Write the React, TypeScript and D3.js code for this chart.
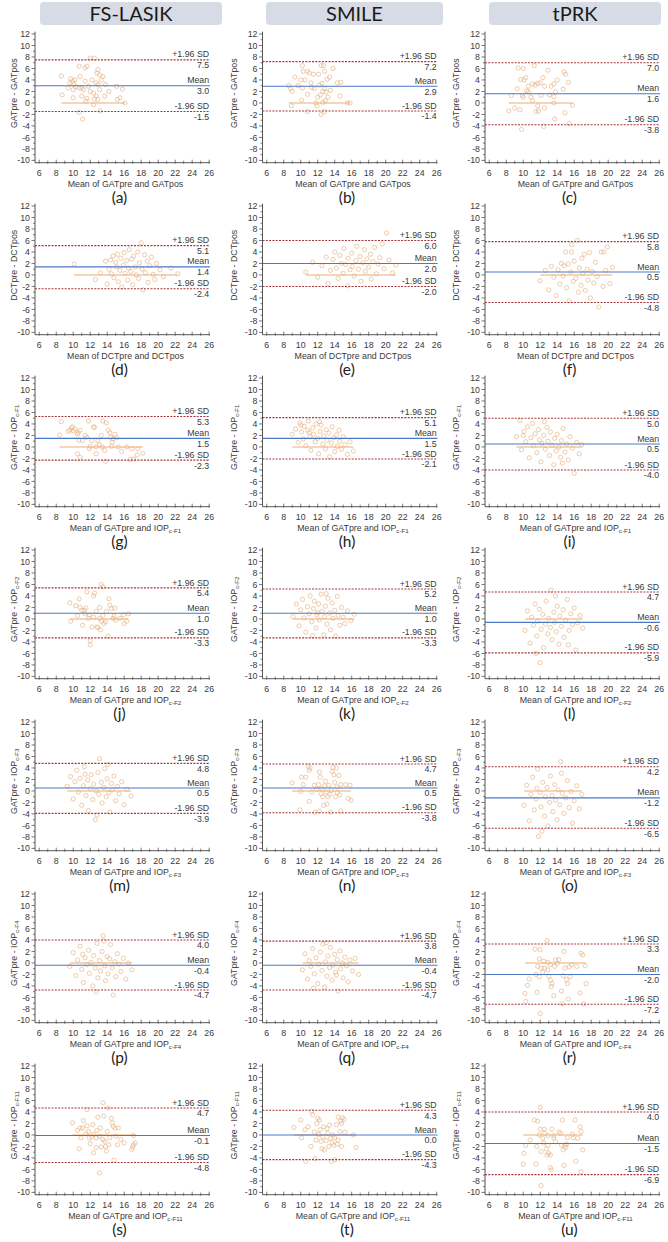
import * as d3 from "d3";
import React from "react";

// Bland-Altman panels: 7 comparisons x 3 surgery groups
const groups = ["FS-LASIK", "SMILE", "tPRK"];
const letters = "abcdefghijklmnopqrstu".split("");

// [main text, subscript] for each row
const yTitles = [
  ["GATpre - GATpos", ""],
  ["DCTpre - DCTpos", ""],
  ["GATpre - IOP", "c-F1"],
  ["GATpre - IOP", "c-F2"],
  ["GATpre - IOP", "c-F3"],
  ["GATpre - IOP", "c-F4"],
  ["GATpre - IOP", "c-F11"],
];
const xTitles = [
  ["Mean of GATpre and GATpos", ""],
  ["Mean of DCTpre and DCTpos", ""],
  ["Mean of GATpre and IOP", "c-F1"],
  ["Mean of GATpre and IOP", "c-F2"],
  ["Mean of GATpre and IOP", "c-F3"],
  ["Mean of GATpre and IOP", "c-F4"],
  ["Mean of GATpre and IOP", "c-F11"],
];

// limits of agreement, row-major (a..u)
const upperSD = [7.5, 7.2, 7.0, 5.1, 6.0, 5.8, 5.3, 5.1, 5.0, 5.4, 5.2, 4.7, 4.8, 4.7, 4.2, 4.0, 3.8, 3.3, 4.7, 4.3, 4.0];
const meanDiff = [3.0, 2.9, 1.6, 1.4, 2.0, 0.5, 1.5, 1.5, 0.5, 1.0, 1.0, -0.6, 0.5, 0.5, -1.2, -0.4, -0.4, -2.0, -0.1, 0.0, -1.5];
const lowerSD = [-1.5, -1.4, -3.8, -2.4, -2.0, -4.8, -2.3, -2.1, -4.0, -3.3, -3.3, -5.9, -3.9, -3.8, -6.5, -4.7, -4.7, -7.2, -4.8, -4.3, -6.9];

const ptsA = [[8.6,4.7],[8.7,1.4],[9.4,2.6],[9.6,3.5],[9.7,4.2],[9.9,3.8],[10.1,3.2],[10.0,2.3],[10.2,4.0],[10.3,2.8],[10.0,0.9],[10.7,6.4],[10.7,2.6],[11.0,2.6],[11.2,2.3],[10.7,-1.6],[11.1,-2.8],[11.4,6.1],[11.6,6.4],[11.4,3.8],[11.6,0.8],[11.5,0.3],[12.0,7.8],[12.5,7.8],[12.2,4.0],[12.0,2.0],[12.4,1.7],[12.5,0.7],[12.7,1.2],[12.4,-0.3],[12.9,5.8],[13.1,4.9],[13.3,4.0],[13.1,2.3],[12.9,0.6],[13.2,-1.4],[13.5,4.6],[13.8,3.2],[13.7,1.2],[14.2,2.0],[12.9,3.2],[15.1,2.9],[15.2,0.6],[15.5,0.9],[15.8,2.4],[10.8,4.6],[11.8,2.9],[12.7,3.5],[12.8,5.2],[11.0,1.2],[16.1,0.0]];
const ptsB = [[10.2,6.5],[12.4,6.5],[12.7,6.5],[13.8,6.0],[10.3,5.5],[10.8,5.5],[12.8,5.5],[11.5,5.0],[12.1,5.0],[11.0,5.2],[9.3,4.5],[13.4,4.5],[10.0,4.0],[10.5,4.0],[13.1,4.1],[11.2,3.5],[12.5,3.4],[14.3,3.5],[8.6,3.0],[9.7,3.0],[12.2,3.1],[8.8,2.5],[10.2,2.6],[11.6,2.5],[12.8,2.5],[9.0,2.0],[12.6,2.0],[13.0,1.9],[10.8,1.5],[12.3,1.4],[12.0,1.0],[13.2,1.0],[10.1,0.5],[12.9,0.4],[11.8,0.0],[15.5,0.0],[12.6,0.1],[8.9,-0.5],[11.9,-0.5],[10.8,-1.5],[12.8,-1.5],[12.4,-2.0],[14.6,1.2],[14.7,3.6],[11.3,2.7],[13.5,2.2],[15.8,0.0]];
const ptsC = [[8.3,-1.4],[8.6,1.3],[9.0,-0.9],[9.3,2.5],[9.4,6.1],[9.6,-1.2],[9.8,-4.6],[9.9,1.3],[10.0,1.0],[10.0,6.0],[10.1,4.0],[10.3,4.4],[10.4,2.1],[10.6,2.9],[10.6,1.9],[10.9,1.0],[11.1,0.4],[11.1,3.3],[11.3,6.5],[11.4,3.1],[11.7,3.4],[11.7,-0.5],[11.5,-1.5],[11.8,-1.4],[12.1,1.3],[12.3,4.4],[12.5,2.9],[12.4,-4.1],[12.5,-0.9],[12.9,5.7],[13.1,1.4],[13.3,2.9],[13.6,1.1],[13.6,0.0],[13.6,3.3],[13.7,-2.8],[14.0,4.0],[13.8,1.9],[14.7,2.4],[14.8,5.4],[15.0,5.0],[14.9,-1.7],[15.3,3.6],[15.4,-3.6],[15.8,-0.4],[9.7,4.1],[12.0,3.5]];
const ptsD = [[10.1,1.9],[12.6,-0.8],[13.2,0.4],[13.8,2.4],[14.0,-1.6],[14.2,1.0],[14.4,2.6],[14.5,0.2],[14.7,3.3],[14.8,-0.5],[15.0,2.2],[15.1,1.4],[15.2,3.6],[15.3,-1.2],[15.5,0.8],[15.6,2.9],[15.7,-2.1],[15.9,1.7],[16.0,3.9],[16.1,0.3],[16.3,2.5],[16.4,-0.9],[16.5,1.2],[16.6,4.4],[16.8,0.6],[16.9,2.8],[17.0,-1.7],[17.1,3.3],[17.3,1.4],[17.4,0.0],[17.6,4.0],[17.7,-0.6],[17.8,2.1],[18.0,5.6],[18.1,1.0],[18.2,-2.6],[18.4,3.5],[18.5,0.4],[18.7,2.4],[18.8,-1.3],[19.0,1.6],[19.2,3.1],[19.4,0.1],[19.6,-0.8],[19.8,2.0],[20.2,0.9],[20.6,-0.3],[21.5,1.2],[22.3,0.2]];
const ptsE = [[10.6,0.5],[11.4,2.2],[12.0,-0.4],[12.5,1.6],[13.0,3.1],[13.2,-1.5],[13.5,0.8],[13.8,2.7],[14.0,4.0],[14.2,1.2],[14.4,-0.6],[14.6,3.4],[14.8,2.0],[15.0,0.3],[15.1,4.6],[15.3,1.8],[15.5,-1.9],[15.6,2.9],[15.8,0.9],[16.0,3.8],[16.1,1.5],[16.3,-0.2],[16.5,2.5],[16.6,5.0],[16.8,1.0],[17.0,3.2],[17.1,-1.1],[17.3,2.1],[17.5,4.4],[17.6,0.6],[17.8,2.8],[18.0,1.4],[18.2,3.6],[18.3,-0.7],[18.5,2.3],[18.7,4.8],[18.9,0.2],[19.1,1.9],[19.3,3.0],[19.6,5.4],[19.8,1.1],[20.1,7.3],[20.4,2.6],[20.8,0.4],[21.2,1.7]];
const ptsF = [[12.0,-1.0],[12.6,0.8],[13.0,-2.6],[13.3,1.5],[13.6,-0.4],[13.9,-3.6],[14.1,0.9],[14.3,-1.6],[14.5,2.0],[14.7,-0.2],[14.8,1.6],[15.0,4.0],[15.1,-2.2],[15.3,1.9],[15.4,-4.5],[15.6,0.5],[15.7,5.3],[15.7,4.0],[15.9,-1.1],[16.0,2.4],[16.2,-0.6],[16.4,6.0],[16.5,-3.0],[16.6,1.2],[16.8,-1.8],[16.9,2.9],[17.0,0.3],[17.2,3.6],[17.3,-2.7],[17.5,1.0],[17.6,-0.9],[17.8,3.9],[17.9,-4.0],[18.1,0.6],[18.3,-1.4],[18.5,2.2],[18.7,-0.3],[18.9,-5.6],[19.2,4.0],[19.4,-2.0],[19.5,4.0],[19.7,0.8],[19.9,4.9],[20.2,-1.5],[20.5,1.3]];
const ptsG = [[8.6,4.4],[8.4,2.1],[9.4,2.7],[9.6,2.9],[9.8,3.3],[9.9,3.5],[10.0,2.8],[10.2,3.1],[10.5,2.2],[10.6,2.5],[10.8,2.9],[10.7,1.2],[10.8,-1.8],[10.5,-1.2],[11.1,1.1],[11.4,2.0],[11.6,1.7],[11.8,4.5],[11.9,-0.3],[12.0,0.1],[12.2,1.1],[12.4,3.5],[12.5,3.4],[12.7,0.0],[12.7,-1.2],[12.9,1.1],[13.1,0.4],[13.3,2.0],[13.4,0.0],[13.5,4.5],[13.7,-0.6],[13.8,-2.5],[13.9,4.2],[14.1,2.9],[14.3,2.5],[14.4,1.7],[14.5,0.1],[14.6,0.8],[14.7,1.4],[14.9,2.2],[15.1,1.6],[15.3,0.0],[15.7,-0.8],[16.3,0.0],[16.7,-2.2],[17.1,-2.1],[17.5,-1.4],[17.6,-0.3],[16.9,-0.3],[18.2,-1.1]];
const ptsH = [[9.0,2.2],[9.4,3.1],[9.7,0.8],[9.9,4.2],[10.1,2.6],[10.3,1.4],[10.4,3.6],[10.6,0.2],[10.8,2.9],[10.9,4.5],[11.1,1.8],[11.2,-0.6],[11.4,3.3],[11.5,2.2],[11.7,0.9],[11.8,4.0],[12.0,1.5],[12.1,-1.2],[12.3,2.7],[12.4,3.8],[12.6,0.5],[12.7,1.9],[12.9,-0.3],[13.0,3.0],[13.1,1.2],[13.3,2.4],[13.4,-1.7],[13.6,0.7],[13.7,3.5],[13.9,1.6],[14.0,-0.8],[14.2,2.1],[14.3,0.1],[14.5,2.9],[14.6,1.0],[14.8,-0.4],[15.0,1.8],[15.2,0.4],[15.5,-1.3],[15.8,0.9],[16.2,-0.7],[12.2,4.4],[10.0,3.8],[11.0,2.5]];
const ptsI = [[9.2,1.8],[9.6,4.6],[9.8,-0.5],[10.1,2.7],[10.3,0.9],[10.5,3.5],[10.7,-1.9],[10.9,1.6],[11.1,4.1],[11.2,0.2],[11.4,2.3],[11.6,-1.0],[11.8,3.0],[11.9,1.2],[12.1,-2.6],[12.2,0.6],[12.4,2.0],[12.6,-0.4],[12.8,3.4],[12.9,1.0],[13.1,-1.5],[13.2,2.6],[13.4,0.3],[13.6,-3.1],[13.7,1.5],[13.9,-0.7],[14.0,2.2],[14.2,0.0],[14.4,-1.8],[14.5,1.1],[14.7,3.2],[14.9,-0.9],[15.1,0.5],[15.3,-2.3],[15.5,1.8],[15.8,-0.2],[16.0,-4.6],[16.3,0.8],[16.6,-1.2],[16.9,0.4],[10.0,2.0],[12.5,4.4],[14.6,-2.8]];
const ptsJ = [[9.6,2.8],[9.7,-0.4],[10.3,2.3],[10.5,0.6],[10.7,3.5],[10.8,2.0],[11.0,1.5],[11.1,-1.1],[11.3,1.5],[11.4,0.9],[11.5,1.9],[11.6,4.7],[11.8,0.1],[11.9,0.7],[12.0,-3.8],[12.0,-4.5],[12.2,-1.4],[12.4,0.3],[12.4,4.0],[12.5,4.5],[12.7,1.3],[12.8,-1.4],[12.9,-1.5],[13.1,2.0],[13.1,0.1],[13.2,-1.9],[13.3,6.0],[13.5,5.6],[13.3,-0.4],[13.5,0.6],[13.6,-0.8],[13.8,-0.5],[13.9,1.3],[14.1,-3.0],[14.2,3.5],[14.3,2.4],[14.5,1.8],[14.7,0.1],[14.8,0.5],[14.9,1.9],[15.0,-0.2],[15.9,0.7],[16.0,-0.8],[16.3,-0.4],[16.5,0.9],[15.5,0.1]];
const ptsK = [[9.1,0.4],[9.5,2.6],[9.8,-1.2],[10.0,1.6],[10.2,3.4],[10.4,0.2],[10.6,-2.3],[10.8,2.1],[11.0,0.9],[11.1,4.0],[11.3,-0.5],[11.5,1.8],[11.6,3.1],[11.8,-1.6],[11.9,0.7],[12.1,2.6],[12.2,-0.2],[12.4,4.3],[12.5,1.3],[12.7,-2.8],[12.8,0.4],[12.9,2.2],[13.1,-0.9],[13.2,3.6],[13.4,1.0],[13.5,-1.9],[13.7,2.8],[13.8,0.1],[14.0,1.5],[14.1,-3.0],[14.3,3.9],[14.4,0.6],[14.6,-1.1],[14.8,2.0],[15.0,0.3],[15.2,-0.8],[15.5,1.4],[15.9,-0.3],[16.3,0.8],[11.4,-2.9],[13.0,4.4],[12.0,1.1]];
const ptsL = [[10.2,-2.0],[10.5,1.4],[10.8,-4.2],[11.0,0.3],[11.2,-1.1],[11.4,2.6],[11.6,-3.0],[11.7,-0.4],[11.9,1.7],[12.0,-7.6],[12.1,-1.8],[12.3,0.8],[12.4,-5.0],[12.6,-0.9],[12.7,3.1],[12.9,-2.6],[13.0,0.1],[13.2,-1.5],[13.3,5.0],[13.4,-3.6],[13.6,1.2],[13.7,-0.6],[13.9,-2.2],[14.0,2.2],[14.2,-4.4],[14.3,0.5],[14.5,-1.3],[14.7,1.6],[14.8,-3.2],[15.0,-0.2],[15.2,3.4],[15.4,-2.0],[15.6,0.9],[15.8,-1.0],[16.0,1.9],[16.2,-5.4],[16.4,-0.7],[16.7,0.6],[17.0,-1.6],[11.5,-6.0],[13.8,4.0],[15.3,-4.5]];
const ptsM = [[9.3,0.8],[9.7,2.5],[10.0,-1.4],[10.2,1.6],[10.4,3.6],[10.6,-0.2],[10.8,2.2],[11.0,-2.5],[11.2,0.9],[11.3,4.2],[11.5,-0.8],[11.7,1.9],[11.8,-3.4],[12.0,0.4],[12.1,2.8],[12.3,-1.5],[12.4,1.2],[12.6,-5.0],[12.7,0.0],[12.9,3.2],[13.0,-0.6],[13.1,5.6],[13.3,1.5],[13.4,-2.1],[13.6,0.6],[13.7,3.9],[13.9,-1.0],[14.0,2.1],[14.2,-0.3],[14.3,-3.7],[14.5,1.3],[14.6,0.2],[14.8,2.6],[15.0,-1.7],[15.2,0.8],[15.4,-0.5],[15.7,1.6],[16.0,-2.4],[16.3,0.3],[16.8,-0.9],[12.8,-4.2],[11.4,2.9],[14.1,4.6]];
const ptsN = [[9.0,1.4],[10.0,-0.1],[10.1,2.4],[9.9,-3.3],[10.3,1.1],[10.6,2.4],[10.9,4.3],[11.0,3.6],[11.1,4.0],[11.0,-1.8],[11.3,-0.2],[11.6,1.0],[11.7,-3.7],[11.9,0.3],[12.1,1.1],[12.2,3.3],[12.3,2.4],[12.4,-0.5],[12.5,0.4],[12.6,-1.0],[12.7,-2.5],[12.8,0.9],[12.9,1.7],[13.0,-0.2],[13.1,-2.3],[13.2,-1.0],[13.3,1.0],[13.4,-0.6],[13.5,-3.7],[13.6,0.1],[13.7,3.4],[13.8,4.1],[13.9,2.8],[14.0,1.5],[14.1,-1.0],[14.2,4.0],[14.3,-0.3],[14.3,0.7],[14.5,2.7],[14.6,-0.7],[14.7,1.1],[14.7,-3.5],[15.3,1.1],[15.6,-1.3],[15.9,-1.6],[15.8,1.0],[12.2,-3.5]];
const ptsO = [[10.1,-2.5],[10.4,1.0],[10.7,-5.2],[10.9,-0.6],[11.1,2.4],[11.3,-3.3],[11.5,-1.4],[11.7,3.8],[11.8,-7.9],[12.0,-0.3],[12.1,-2.8],[12.3,1.5],[12.5,-4.4],[12.6,-1.0],[12.8,0.6],[12.9,-6.1],[13.1,-2.0],[13.2,2.6],[13.4,-0.8],[13.5,-3.6],[13.7,1.1],[13.8,-1.6],[14.0,-5.0],[14.1,0.2],[14.3,-2.4],[14.5,3.1],[14.6,-0.4],[14.8,-3.9],[15.0,-1.2],[15.2,1.8],[15.4,-2.9],[15.6,-0.1],[15.8,-5.6],[16.0,-1.7],[16.3,0.9],[16.6,-3.1],[16.9,-0.6],[12.2,-7.0],[14.4,5.1],[11.6,0.5]];
const ptsP = [[9.6,-0.6],[10.0,1.8],[10.3,-2.2],[10.5,0.5],[10.8,2.9],[11.0,-1.1],[11.2,-3.4],[11.4,0.9],[11.6,-0.3],[11.8,2.2],[11.9,-1.8],[12.1,0.1],[12.3,-4.0],[12.4,1.3],[12.6,-0.9],[12.8,3.4],[12.9,-2.6],[13.1,0.4],[13.2,-1.4],[13.4,2.0],[13.5,4.7],[13.7,-0.5],[13.8,-3.1],[14.0,1.1],[14.1,-1.9],[14.3,0.7],[14.4,3.2],[14.6,-0.9],[14.7,-5.6],[14.9,0.2],[15.0,-2.4],[15.2,1.6],[15.4,-0.2],[15.6,-1.5],[15.9,0.8],[16.2,-2.8],[16.5,0.0],[16.9,-1.2],[12.7,-5.0],[13.6,3.8],[11.1,1.5]];
const ptsQ = [[10.2,-1.2],[10.5,1.6],[10.8,-2.8],[11.0,0.4],[11.2,-0.6],[11.4,2.5],[11.6,-1.9],[11.8,0.9],[12.0,-3.6],[12.1,-0.2],[12.3,1.9],[12.5,-1.3],[12.6,3.3],[12.8,-4.2],[12.9,0.2],[13.1,-2.3],[13.2,1.2],[13.4,-0.8],[13.5,2.7],[13.7,-3.0],[13.8,-0.4],[14.0,1.5],[14.1,-1.6],[14.3,0.6],[14.4,-4.9],[14.6,2.1],[14.7,-1.0],[14.9,0.0],[15.0,-2.6],[15.2,1.0],[15.4,-0.5],[15.6,-3.3],[15.8,0.5],[16.1,-1.4],[16.4,0.8],[16.8,-2.0],[13.0,3.5],[11.5,-4.4],[14.2,-2.1]];
const ptsR = [[10.2,-5.3],[10.5,-3.9],[10.7,-2.8],[11.4,2.4],[11.5,-2.0],[11.6,-5.1],[11.9,-2.4],[11.7,-0.6],[11.9,0.7],[12.0,2.3],[12.0,-8.8],[12.1,-0.9],[12.3,-1.6],[12.4,0.3],[12.5,-0.9],[12.8,3.9],[12.9,-1.2],[12.9,0.1],[13.0,-2.3],[13.2,-3.0],[13.2,-0.3],[13.3,-4.1],[13.4,-3.6],[13.6,-5.7],[13.7,-0.6],[13.8,0.5],[14.0,-0.1],[14.2,0.6],[14.5,-4.9],[14.6,-7.1],[14.7,-2.2],[14.8,2.0],[14.9,-0.9],[15.1,-2.9],[15.2,-3.6],[15.3,-6.3],[15.4,-0.7],[15.5,-2.4],[15.7,-0.3],[16.3,-0.6],[16.7,-5.2],[16.8,1.7],[17.0,1.4],[17.1,-7.1],[17.3,-0.5],[17.4,-3.6],[10.3,-6.7]];
const ptsS = [[9.9,2.1],[10.5,0.8],[10.7,-2.4],[10.8,1.2],[11.1,1.2],[10.9,-0.5],[11.2,2.5],[11.5,0.2],[11.6,1.6],[11.6,4.4],[11.8,0.6],[11.9,-0.5],[12.0,-1.5],[12.2,-0.3],[12.3,1.8],[12.4,0.1],[12.4,-3.1],[12.7,-2.2],[12.7,-0.5],[12.8,0.8],[12.9,3.1],[13.1,-0.2],[13.1,-6.6],[13.2,1.2],[13.3,-2.1],[13.5,-0.8],[13.5,5.6],[13.6,3.3],[13.7,-1.1],[13.8,-2.0],[13.9,-2.8],[14.0,0.6],[14.1,4.7],[14.2,-1.7],[14.3,-0.5],[14.5,2.9],[14.6,2.1],[14.7,1.5],[14.8,-4.4],[14.9,1.2],[15.0,-0.2],[15.2,-1.7],[15.3,1.2],[15.6,-0.8],[16.0,-1.4],[16.9,-2.5],[17.1,-1.7],[17.1,-0.1],[17.3,-1.4],[17.0,-2.1]];
const ptsT = [[9.2,1.3],[10.0,2.6],[10.1,-0.5],[10.5,0.9],[10.9,1.4],[11.2,-2.0],[11.3,4.1],[11.4,3.5],[11.6,0.5],[11.7,-4.1],[11.8,-0.9],[11.9,2.0],[12.0,2.9],[12.1,0.1],[12.2,2.6],[12.3,0.9],[12.4,-1.1],[12.5,-2.4],[12.6,-0.3],[12.7,1.4],[12.8,-2.6],[13.0,-1.0],[13.1,1.1],[13.2,0.3],[13.3,-2.0],[13.4,1.7],[13.5,-0.6],[13.6,-4.6],[13.7,-1.4],[13.8,0.0],[13.9,-1.8],[14.0,-4.3],[14.0,-0.5],[14.2,1.8],[14.3,-1.6],[14.4,3.1],[14.4,-0.9],[14.6,0.6],[14.7,2.4],[14.8,-2.0],[14.8,2.0],[14.9,3.0],[15.1,2.7],[15.2,0.5],[16.2,0.0],[16.5,-2.2],[10.6,-4.6]];
const ptsU = [[10.0,-5.1],[10.1,-3.2],[10.3,-1.8],[10.8,-0.9],[11.3,2.6],[11.5,-5.1],[11.6,-2.0],[11.7,2.4],[11.9,0.0],[12.0,1.0],[12.1,-8.8],[12.1,-2.9],[12.3,-0.6],[12.4,-1.4],[12.5,1.0],[12.5,0.3],[12.7,-2.4],[12.8,-3.5],[12.9,-1.8],[12.9,-0.1],[13.0,-3.2],[13.2,-5.7],[13.2,-3.5],[13.3,-6.1],[13.4,1.0],[13.6,-0.1],[13.6,-0.5],[13.8,-1.2],[14.2,0.5],[14.4,0.3],[14.5,-1.8],[14.6,2.6],[14.7,-2.6],[14.8,-5.3],[14.9,-1.8],[15.0,-2.2],[15.1,-1.6],[15.2,-0.5],[15.8,0.1],[15.9,-0.5],[16.1,2.6],[16.2,-4.6],[16.4,-0.6],[16.7,1.4],[16.8,0.6],[17.0,-2.6],[16.8,-6.4],[12.0,4.8]];

const panelPoints = [ptsA, ptsB, ptsC, ptsD, ptsE, ptsF, ptsG, ptsH, ptsI, ptsJ, ptsK, ptsL, ptsM, ptsN, ptsO, ptsP, ptsQ, ptsR, ptsS, ptsT, ptsU];

const xTicks = d3.range(6, 27, 2);
const yTicks = d3.range(-10, 13, 2);

const COL_X = [35, 262.5, 485];
const Y_TITLE_X = [15, 235, 457];
const HEADERS = [[40, 222], [266, 443], [489, 661]];
const ROW_TOP = 31.7;
const ROW_STEP = 172;
const W = 175;
const H = 131;

const sans = "'Liberation Sans', Arial, sans-serif";
const calibri = "Lato, 'Open Sans', sans-serif";
const textColor = "#3a3a3a";
const fs = 8.8;

function SubText({ main, sub, ...rest }: any) {
  return (
    <text {...rest}>
      {main}
      {sub && (
        <tspan fontSize={6.2} dy={2}>
          {sub}
        </tspan>
      )}
    </text>
  );
}

function Panel({ idx }: { idx: number }) {
  const row = Math.floor(idx / 3);
  const col = idx % 3;
  const ox = COL_X[col];
  const oy = ROW_TOP + row * ROW_STEP;
  const x = d3.scaleLinear().domain([5.5, 26.1]).range([0, W]);
  const y = d3.scaleLinear().domain([-10.4, 12.4]).range([H, 0]);
  const pts = panelPoints[idx];
  const [xmin, xmax] = d3.extent(pts, (d) => d[0]) as [number, number];

  const refLines = [
    { v: upperSD[idx], name: "+1.96 SD", color: "#a8353a", dash: "2,1.3" },
    { v: meanDiff[idx], name: "Mean", color: "#4a78c8", dash: "" },
    { v: lowerSD[idx], name: "-1.96 SD", color: "#a8353a", dash: "2,1.3" },
  ];

  return (
    <g>
      <g transform={`translate(${ox},${oy})`}>
        {/* line of equality over the range of the data */}
        <line x1={x(xmin)} x2={x(xmax)} y1={y(0)} y2={y(0)} stroke="#f3c9a0" strokeWidth={1.4} />
        {pts.map((d, k) => (
          <circle key={k} cx={x(d[0])} cy={y(d[1])} r={2.1} fill="none" stroke="#e6b486" strokeWidth={0.8} opacity={0.85} />
        ))}
        {refLines.map((l, k) => (
          <g key={k}>
            <line x1={0} x2={W} y1={y(l.v)} y2={y(l.v)} stroke={l.color} strokeWidth={1.1} strokeDasharray={l.dash || undefined} />
            <text x={x(26)} y={y(l.v) - 2.4} textAnchor="end" fontSize={fs} fontFamily={sans} fill={textColor}>
              {l.name}
            </text>
            <text x={x(26)} y={y(l.v) + 8.4} textAnchor="end" fontSize={fs} fontFamily={sans} fill={textColor}>
              {l.v.toFixed(1)}
            </text>
          </g>
        ))}
        {/* axes */}
        <line x1={0} x2={0} y1={0} y2={H} stroke="#555" strokeWidth={1} />
        <line x1={0} x2={W} y1={H} y2={H} stroke="#555" strokeWidth={1} />
        {d3.range(-10, 13, 1).map((v) => (
          <line key={"ym" + v} x1={v % 2 === 0 ? -3.5 : -2} x2={0} y1={y(v)} y2={y(v)} stroke="#555" strokeWidth={0.8} />
        ))}
        {yTicks.map((v) => (
          <text key={"yt" + v} x={-5} y={y(v) + 3.1} textAnchor="end" fontSize={fs} fontFamily={sans} fill={textColor}>
            {v}
          </text>
        ))}
        {d3.range(6, 27, 1).map((v) => (
          <line key={"xm" + v} x1={x(v)} x2={x(v)} y1={H - (v % 2 === 0 ? 3 : 2)} y2={H + 1} stroke="#555" strokeWidth={0.8} />
        ))}
        {xTicks.map((v) => (
          <text key={"xt" + v} x={x(v)} y={H + 13.8} textAnchor="middle" fontSize={fs} fontFamily={sans} fill={textColor}>
            {v}
          </text>
        ))}
        <SubText
          main={xTitles[row][0]}
          sub={xTitles[row][1]}
          x={W / 2 + 3}
          y={H + 24.8}
          textAnchor="middle"
          fontSize={fs}
          fontFamily={sans}
          fill={textColor}
        />
        <text x={W / 2 - 3} y={H + 40.5} textAnchor="middle" fontSize={15.5} fontFamily={calibri} fill="#222">
          ({letters[idx]})
        </text>
      </g>
      <SubText
        main={yTitles[row][0]}
        sub={yTitles[row][1]}
        transform={`translate(${Y_TITLE_X[col]},${oy + H / 2 - 4}) rotate(-90)`}
        textAnchor="middle"
        dominantBaseline="middle"
        fontSize={fs}
        fontFamily={sans}
        fill={textColor}
      />
    </g>
  );
}

export default function App() {
  return (
    <svg
      width={668}
      height={1242}
      style={{ position: "absolute", left: 0, top: 0, background: "#fff" }}
    >
      {groups.map((g, i) => (
        <g key={g}>
          <rect x={HEADERS[i][0]} y={2} width={HEADERS[i][1] - HEADERS[i][0]} height={23} rx={4} fill="#d7dbe6" />
          <text x={(HEADERS[i][0] + HEADERS[i][1]) / 2} y={20.5} textAnchor="middle" fontSize={20} fontFamily={calibri} fill="#1a1a1a">
            {g}
          </text>
        </g>
      ))}
      {d3.range(21).map((i) => (
        <Panel key={i} idx={i} />
      ))}
    </svg>
  );
}
